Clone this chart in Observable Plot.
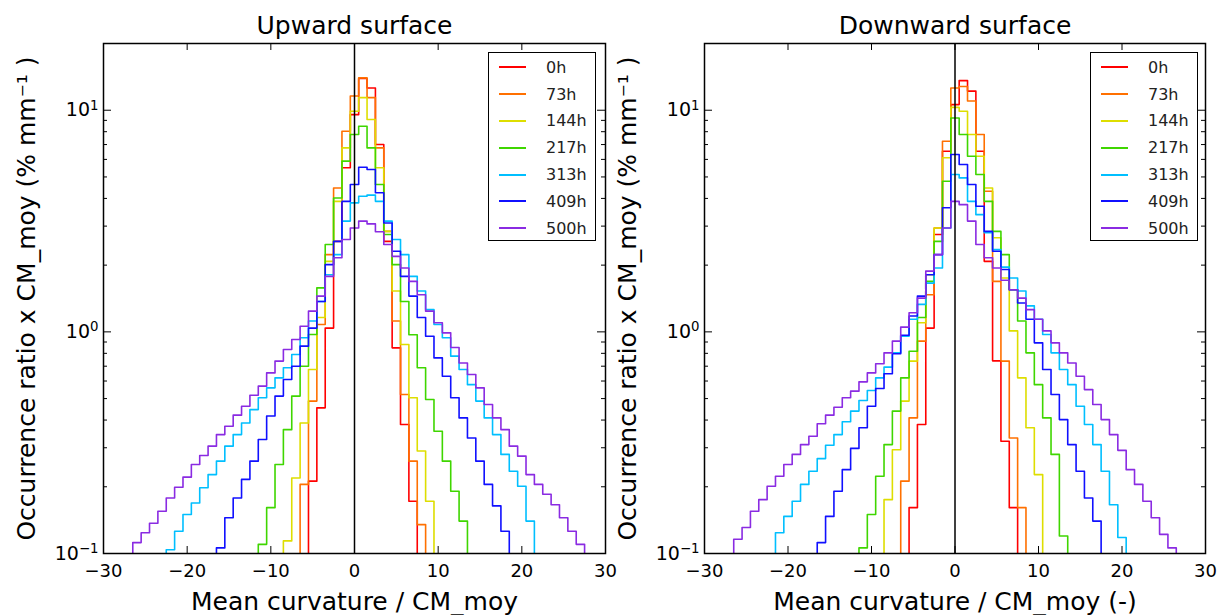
<!DOCTYPE html>
<html><head><meta charset="utf-8">
<script src="https://cdn.jsdelivr.net/npm/d3@7"></script>
<script src="https://cdn.jsdelivr.net/npm/@observablehq/plot@0.6"></script>
<style>
body{margin:0;background:#fff;font-family:"DejaVu Sans",sans-serif;}
#wrap{position:relative;width:1227px;height:615px;display:flex;overflow:hidden;background:#fff;}
#wrap svg{background:none !important;overflow:visible;}
.legend{position:absolute;top:52px;height:189px;border:1.5px solid #000;background:#fff;box-sizing:border-box;padding-top:1px;}
.row{height:26.8px;display:flex;align-items:center;font-size:16px;color:#222;}
.row span.l{display:inline-block;width:27px;height:0;border-top:2px solid;margin-left:10px;margin-right:20px;}
</style></head><body><div id="wrap"></div>
<script>
const hours = ["0h","73h","144h","217h","313h","409h","500h"];
const colors = ["#ff0000","#ff7000","#dede00","#3fd600","#00bfff","#1010ff","#8a2be2"];
const xTicks = [-30,-20,-10,0,10,20,30];
const yMajor = [0.1, 1, 10];
const yMinor = [0.2,0.3,0.4,0.5,0.6,0.7,0.8,0.9,2,3,4,5,6,7,8,9];

// Upward surface: first bin centre and values (one value per unit of curvature)
const upStart = [-6,-7,-9,-12,-23,-17,-27];
const up_0h   = [0.09,0.212,0.454,1.04,2.56,5.50,9.55,13.9,12.6,7.00,2.56,0.847,0.382,0.172,0.09];
const up_73h  = [0.09,0.205,0.487,1.08,2.23,4.46,8.04,11.6,14.0,11.4,6.76,2.84,1.12,0.522,0.261,0.135,0.09];
const up_144h = [0.09,0.114,0.219,0.388,0.676,1.16,2.08,3.88,6.76,9.9,11.4,9.08,5.50,2.84,1.53,0.877,0.504,0.290,0.172,0.09];
const up_217h = [0.09,0.110,0.161,0.252,0.362,0.513,0.700,0.973,1.58,2.48,4.02,5.89,7.77,8.47,6.76,4.62,2.75,2.01,1.37,0.97,0.689,0.495,0.356,0.261,0.191,0.140,0.09];
const up_313h = [0.09,0.104,0.126,0.150,0.169,0.198,0.227,0.261,0.305,0.344,0.388,0.446,0.504,0.559,0.620,0.689,0.790,0.94,1.12,1.37,1.81,2.23,3.16,3.82,4.09,4.14,3.88,3.16,2.61,2.23,1.78,1.53,1.26,1.08,0.94,0.777,0.676,0.578,0.487,0.409,0.344,0.280,0.235,0.201,0.14,0.09];
const up_409h = [0.09,0.106,0.145,0.178,0.216,0.261,0.327,0.417,0.513,0.610,0.700,0.862,1.04,1.37,2.01,2.56,3.88,4.62,5.53,5.40,4.24,3.10,2.31,1.78,1.45,1.16,0.955,0.763,0.631,0.504,0.409,0.332,0.261,0.205,0.164,0.126,0.09];
const up_500h = [0.09,0.112,0.124,0.137,0.155,0.178,0.199,0.221,0.252,0.277,0.305,0.344,0.375,0.421,0.462,0.518,0.569,0.653,0.738,0.832,0.923,1.06,1.24,1.45,1.78,2.16,2.61,2.94,3.16,3.07,2.83,2.48,2.19,1.94,1.69,1.47,1.24,1.10,0.99,0.85,0.724,0.642,0.559,0.470,0.409,0.362,0.305,0.275,0.227,0.205,0.185,0.166,0.145,0.126,0.110,0.09];

// Downward surface
const downStart = [-6,-7,-9,-12,-22,-17,-27];
const down_0h   = [0.09,0.161,0.382,1.04,2.75,6.53,10.6,13.6,12.2,6.53,2.08,0.74,0.321,0.161,0.09];
const down_73h  = [0.09,0.212,0.409,0.908,1.47,2.94,7.25,12.6,12.8,11.0,7.77,4.31,1.69,0.738,0.332,0.161,0.09];
const down_144h = [0.09,0.175,0.294,0.487,0.738,1.10,1.81,2.94,6.10,10.3,9.89,7.77,6.20,4.46,2.66,1.75,1.01,0.620,0.369,0.227,0.09];
const down_217h = [0.09,0.106,0.150,0.223,0.310,0.439,0.620,0.818,1.16,1.69,2.56,4.78,9.23,7.77,6.20,5.13,3.88,2.84,2.23,1.55,1.12,0.804,0.578,0.409,0.280,0.12,0.09];
const down_313h = [0.09,0.124,0.147,0.172,0.205,0.235,0.268,0.308,0.344,0.393,0.439,0.490,0.544,0.620,0.693,0.804,0.955,1.14,1.33,1.66,1.94,2.94,5.13,4.95,3.88,3.38,2.80,2.35,1.96,1.75,1.53,1.31,1.14,0.973,0.804,0.676,0.578,0.462,0.382,0.310,0.235,0.166,0.118,0.09];
const down_409h = [0.09,0.112,0.147,0.191,0.239,0.298,0.369,0.462,0.555,0.647,0.796,0.966,1.18,1.45,1.81,2.23,3.63,6.31,5.69,4.62,3.69,2.84,2.31,1.91,1.55,1.35,1.14,0.892,0.676,0.522,0.402,0.310,0.235,0.178,0.140,0.09];
const down_500h = [0.09,0.116,0.131,0.155,0.175,0.201,0.223,0.252,0.280,0.310,0.338,0.385,0.421,0.457,0.504,0.540,0.595,0.653,0.718,0.804,0.908,1.05,1.22,1.42,1.88,2.23,2.94,3.88,3.75,3.16,2.48,2.16,1.94,1.71,1.55,1.42,1.26,1.14,1.01,0.892,0.804,0.724,0.631,0.549,0.470,0.402,0.344,0.292,0.239,0.205,0.172,0.145,0.122,0.106,0.09];

const upSeries = [up_0h,up_73h,up_144h,up_217h,up_313h,up_409h,up_500h];
const downSeries = [down_0h,down_73h,down_144h,down_217h,down_313h,down_409h,down_500h];

function rowsOf(series, starts) {
  const rows = [];
  series.forEach((vals, i) => vals.forEach((v, j) => rows.push({series: hours[i], x: starts[i] + j, v})));
  return rows;
}

const H = 615, MT = 43, MB = 62;
const fmtX = d => d < 0 ? "\u2212" + (-d) : String(d);

function panel({title, xLabel, rows, width, ml, mr}) {
  const innerW = width - ml - mr, innerH = H - MT - MB;
  const svg = Plot.plot({
    width, height: H, marginLeft: ml, marginRight: mr, marginTop: MT, marginBottom: MB,
    style: {fontFamily: "DejaVu Sans, sans-serif", fontSize: "18px", color: "#000", background: "none", overflow: "visible"},
    x: {domain: [-30, 30]},
    y: {type: "log", domain: [0.1, 20]},
    color: {domain: hours, range: colors},
    marks: [
      Plot.line(rows, {x: "x", y: "v", z: "series", stroke: "series", curve: "step", strokeWidth: 1.6, clip: true}),
      Plot.ruleX([0], {stroke: "#000", strokeWidth: 1.5}),
      Plot.tickX(xTicks, {x: d => d, insetTop: innerH - 7, stroke: "#000"}),
      Plot.tickX(xTicks, {x: d => d, insetBottom: innerH - 7, stroke: "#000"}),
      Plot.tickY(yMajor, {y: d => d, insetRight: innerW - 8, stroke: "#000"}),
      Plot.tickY(yMajor, {y: d => d, insetLeft: innerW - 8, stroke: "#000"}),
      Plot.tickY(yMinor, {y: d => d, insetRight: innerW - 4, stroke: "#000"}),
      Plot.tickY(yMinor, {y: d => d, insetLeft: innerW - 4, stroke: "#000"}),
      Plot.axisX(xTicks, {tickSize: 0, tickPadding: 11, tickFormat: fmtX, label: null}),
      Plot.axisY(yMajor, {tickSize: 0, tickPadding: 5, tickFormat: d => "10^" + Math.round(Math.log10(d)), label: null, fontSize: 19}),
      Plot.frame({stroke: "#000", strokeWidth: 1.5}),
      Plot.text([title], {frameAnchor: "top", lineAnchor: "middle", dy: -18, fontSize: 25, fill: "#000"}),
      Plot.text([xLabel], {frameAnchor: "bottom", lineAnchor: "middle", dy: 48, fontSize: 25, fill: "#000"}),
      Plot.text(["Occurrence ratio x CM_moy (% mm\u207B\u00B9 )"], {frameAnchor: "left", textAnchor: "middle", lineAnchor: "middle", rotate: -90, dx: -77, fontSize: 25, fill: "#000"})
    ]
  });
  // render power-of-ten labels with a raised exponent
  svg.querySelectorAll("text").forEach(t => {
    const s = t.textContent;
    const m = /^10\^(-?\d+)$/.exec(s);
    if (!m) return;
    t.textContent = "";
    const base = document.createElementNS("http://www.w3.org/2000/svg", "tspan");
    base.textContent = "10";
    const exp = document.createElementNS("http://www.w3.org/2000/svg", "tspan");
    exp.textContent = m[1].replace("-", "\u2212");
    exp.setAttribute("dy", "-0.5em");
    exp.setAttribute("font-size", "70%");
    t.append(base, exp);
  });
  return svg;
}

const wrap = document.getElementById("wrap");
wrap.append(panel({title: "Upward surface", xLabel: "Mean curvature / CM_moy", rows: rowsOf(upSeries, upStart), width: 613, ml: 103, mr: 8}));
wrap.append(panel({title: "Downward surface", xLabel: "Mean curvature / CM_moy (-)", rows: rowsOf(downSeries, downStart), width: 614, ml: 91, mr: 22}));

function legend(left) {
  const box = document.createElement("div");
  box.className = "legend";
  box.style.left = left + "px";
  box.style.width = "108px";
  hours.forEach((h, i) => {
    const r = document.createElement("div");
    r.className = "row";
    const l = document.createElement("span");
    l.className = "l";
    l.style.borderColor = colors[i];
    const t = document.createElement("span");
    t.textContent = h;
    r.append(l, t);
    box.append(r);
  });
  wrap.append(box);
}
legend(488);
legend(1090);
</script></body></html>
